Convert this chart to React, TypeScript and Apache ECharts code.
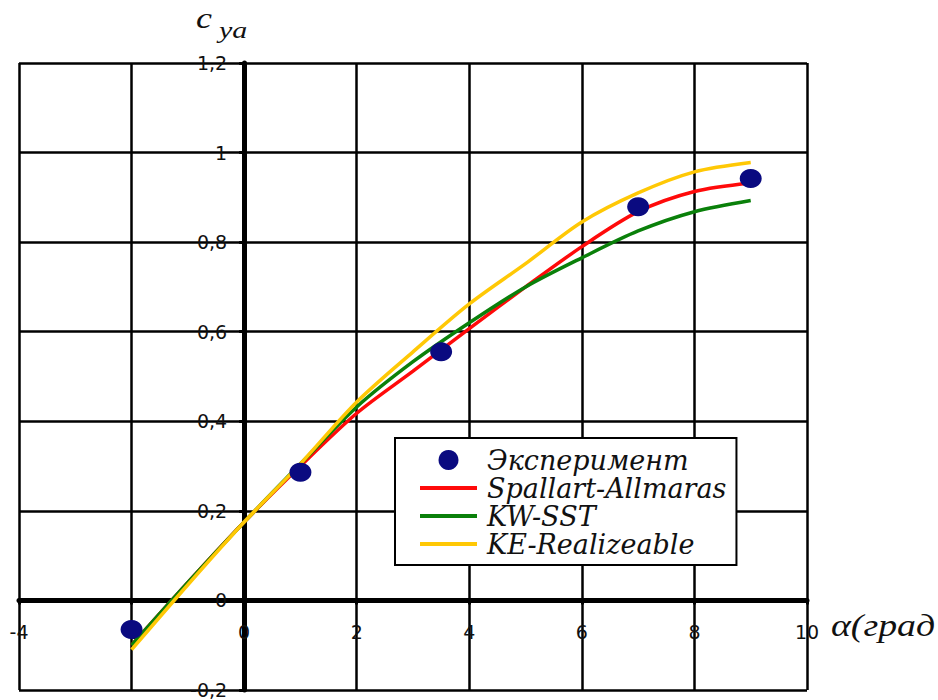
import React, { useEffect, useRef } from "react";
import * as echarts from "echarts";

// Experiment points
const expAlpha = [-2, 1, 3.5, 7, 9];
const expCy = [-0.065, 0.286, 0.555, 0.879, 0.942];

// Computed curves
const calcAlpha = [-2, -1, 0, 1, 2, 3, 4, 5, 6, 7, 8, 9];
const saCy = [-0.1, 0.04, 0.175, 0.3, 0.418, 0.512, 0.607, 0.7, 0.79, 0.868, 0.913, 0.932];
const sstCy = [-0.1, 0.04, 0.175, 0.305, 0.432, 0.533, 0.62, 0.7, 0.765, 0.825, 0.868, 0.893];
const keCy = [-0.11, 0.035, 0.175, 0.305, 0.443, 0.555, 0.662, 0.752, 0.845, 0.91, 0.957, 0.978];

const seriesNames = ["Эксперимент", "Spallart-Allmaras", "KW-SST", "KE-Realizeable"];
const seriesColors = ["#0a0a80", "#ff0a0a", "#0a800a", "#ffc805"];

const xMin = -4;
const xMax = 10;
const xStep = 2;
const yMin = -0.2;
const yMax = 1.2;
const yStep = 0.2;

const yAxisTitle = "c";
const yAxisSub = "ya";
const xAxisTitle = "α(град";

const zip = (xs: number[], ys: number[]) => xs.map((x, i) => [x, ys[i]]);

export default function App() {
  const ref = useRef<HTMLDivElement>(null);
  useEffect(() => {
    if (!ref.current) return;
    const chart = echarts.init(ref.current, null, { renderer: "svg" });
    const labelFont = "'DejaVu Sans', sans-serif";
    const serif = "'Liberation Serif', 'Times New Roman', serif";
    const legendSerif = "'DejaVu Serif', 'Liberation Serif', serif";
    const lineIcon = "path://M0,0H57V4H0Z";
    chart.setOption({
      animation: false,
      backgroundColor: "#ffffff",
      grid: {
        left: 19,
        right: 131,
        top: 63,
        bottom: 10,
        show: false,
        containLabel: false,
        outerBoundsMode: "none",
      },
      xAxis: {
        type: "value",
        position: "bottom",
        min: xMin,
        max: xMax,
        interval: xStep,
        offset: 0,
        axisLine: { show: true, onZero: false, lineStyle: { color: "#000", width: 5 } },
        axisTick: { show: true, length: 4, lineStyle: { color: "#000", width: 3 } },
        axisLabel: {
          margin: 22,
          fontSize: 19,
          color: "#111",
          fontFamily: labelFont,
          formatter: (v: number) => String(v),
        },
        splitLine: { show: true, lineStyle: { color: "#000", width: 2.5 } },
      },
      yAxis: {
        type: "value",
        position: "left",
        min: yMin,
        max: yMax,
        interval: yStep,
        offset: 0,
        axisLine: { show: true, onZero: false, lineStyle: { color: "#000", width: 5 } },
        axisTick: { show: true, length: 5, lineStyle: { color: "#000", width: 3 } },
        axisLabel: {
          margin: 17,
          fontSize: 19,
          color: "#111",
          fontFamily: labelFont,
          padding: [5, 0, 0, 0],
          formatter: (v: number) => String(Math.round(v * 10) / 10).replace(".", ","),
        },
        splitLine: { show: true, lineStyle: { color: "#000", width: 2.5 } },
      },
      legend: {
        orient: "vertical",
        left: 395,
        top: 438,
        backgroundColor: "#ffffff",
        borderColor: "#000",
        borderWidth: 2,
        borderRadius: 0,
        padding: [8, 10, 7, 25],
        itemWidth: 57,
        itemHeight: 20,
        itemGap: 0,
        symbolKeepAspect: true,
        textStyle: {
          fontFamily: legendSerif,
          fontStyle: "italic",
          fontSize: 27,
          lineHeight: 28,
          color: "#111",
          padding: [0, 0, 0, 5],
        },
        data: [
          { name: seriesNames[0], icon: "circle" },
          { name: seriesNames[1], icon: lineIcon },
          { name: seriesNames[2], icon: lineIcon },
          { name: seriesNames[3], icon: lineIcon },
        ],
      },
      graphic: [
        {
          type: "text",
          x: 196,
          y: 18,
          scaleX: 1.2,
          style: {
            text: yAxisTitle,
            font: `italic 30px ${serif}`,
            lineHeight: 30,
            fill: "#111",
            verticalAlign: "middle",
          },
        },
        {
          type: "text",
          x: 219,
          y: 30,
          scaleX: 1.25,
          style: {
            text: yAxisSub,
            font: `italic 24px ${serif}`,
            lineHeight: 24,
            fill: "#111",
            verticalAlign: "middle",
          },
        },
        {
          type: "text",
          x: 831,
          y: 625,
          scaleX: 1.22,
          style: {
            text: xAxisTitle,
            font: `italic 31px ${serif}`,
            fill: "#111",
            verticalAlign: "middle",
          },
        },
      ],
      series: [
        {
          name: seriesNames[1],
          type: "line",
          data: zip(calcAlpha, saCy),
          smooth: 0.3,
          symbol: "none",
          color: seriesColors[1],
          lineStyle: { color: seriesColors[1], width: 3.5 },
          z: 3,
        },
        {
          name: seriesNames[2],
          type: "line",
          data: zip(calcAlpha, sstCy),
          smooth: 0.3,
          symbol: "none",
          color: seriesColors[2],
          lineStyle: { color: seriesColors[2], width: 3.5 },
          z: 3,
        },
        {
          name: seriesNames[3],
          type: "line",
          data: zip(calcAlpha, keCy),
          smooth: 0.3,
          symbol: "none",
          color: seriesColors[3],
          lineStyle: { color: seriesColors[3], width: 3.5 },
          z: 3,
        },
        {
          name: seriesNames[0],
          type: "scatter",
          data: zip(expAlpha, expCy),
          symbol: "circle",
          symbolSize: [22, 19],
          itemStyle: { color: seriesColors[0], opacity: 1 },
          z: 5,
        },
      ],
    });
    // Move both axes (line, ticks and labels) onto the zero lines of the other axis.
    const origin = chart.convertToPixel({ gridIndex: 0 }, [0, 0]) as number[];
    const corner = chart.convertToPixel({ gridIndex: 0 }, [xMin, yMin]) as number[];
    chart.setOption({
      xAxis: { offset: origin[1] - corner[1] },
      yAxis: { offset: corner[0] - origin[0] },
    });
    return () => chart.dispose();
  }, []);
  return (
    <div
      ref={ref}
      style={{ position: "fixed", left: 0, top: 0, width: 938, height: 700, background: "#fff" }}
    />
  );
}
